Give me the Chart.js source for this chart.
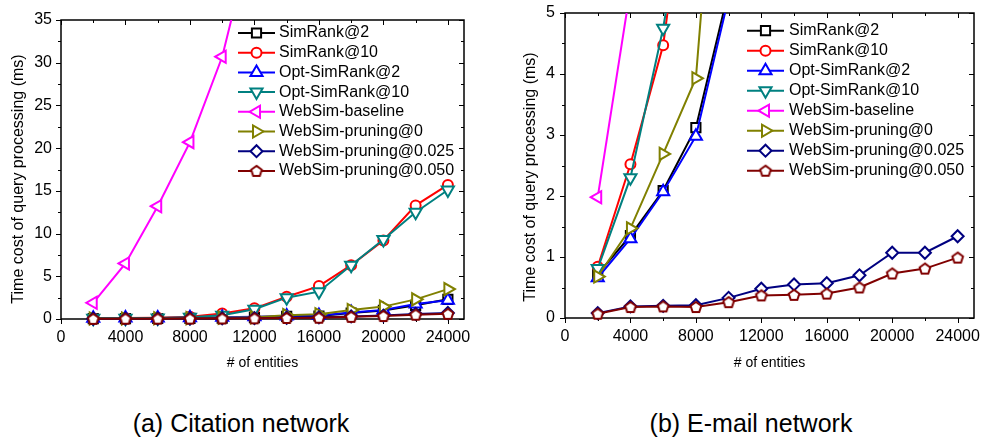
<!DOCTYPE html>
<html><head><meta charset="utf-8">
<script src="https://cdn.jsdelivr.net/npm/chart.js@4/dist/chart.umd.min.js"></script>
<style>
html,body{margin:0;padding:0;background:#fff;width:983px;height:437px;overflow:hidden;}
canvas{position:absolute;top:0;}
#cA{left:0;}
#cB{left:490px;}
.cap{position:absolute;top:409px;height:28px;line-height:28px;font-family:"Liberation Sans",Arial,sans-serif;font-size:25px;color:#000;white-space:nowrap;transform:translateX(-50%);}
</style></head><body>
<canvas id="cA" width="490" height="380"></canvas>
<canvas id="cB" width="493" height="380"></canvas>
<div class="cap" style="left:241px">(a) Citation network</div>
<div class="cap" style="left:751px">(b) E-mail network</div>
<script>
// ---------- data ----------
const entities = [2000,4000,6000,8000,10000,12000,14000,16000,18000,20000,22000,24000];
const seriesNames = ['SimRank@2','SimRank@10','Opt-SimRank@2','Opt-SimRank@10','WebSim-baseline','WebSim-pruning@0','WebSim-pruning@0.025','WebSim-pruning@0.050'];

const xTickValues = [0,4000,8000,12000,16000,20000,24000];
const xTickLabels = ['0','4000','8000','12000','16000','20000','24000'];
const yTickValuesA = [0,5,10,15,20,25,30,35];
const yTickLabelsA = ['0','5','10','15','20','25','30','35'];
const yTickValuesB = [0,1,2,3,4,5];
const yTickLabelsB = ['0','1','2','3','4','5'];

// (a) Citation network
const citSimRank2    = [0.04,0.05,0.06,0.08,0.1,0.15,0.3,0.35,0.7,1.0,1.6,2.3];
const citSimRank10   = [0.1,0.12,0.15,0.25,0.65,1.25,2.6,3.85,6.3,9.2,13.3,15.7];
const citOptSimRank2 = [0.1,0.12,0.12,0.15,0.2,0.25,0.35,0.4,0.75,1.05,1.75,2.2];
const citOptSimRank10= [0.08,0.1,0.12,0.2,0.45,1.15,2.5,3.2,6.3,9.3,12.5,15.1];
const citBaseline    = [1.9,6.5,13.2,20.7,30.7,46.0,null,null,null,null,null,null];
const citPruning0    = [0.05,0.06,0.08,0.1,0.15,0.2,0.45,0.55,1.05,1.45,2.3,3.5];
const citPruning025  = [0.03,0.04,0.05,0.06,0.08,0.1,0.15,0.2,0.3,0.4,0.6,0.7];
const citPruning050  = [0.02,0.03,0.04,0.05,0.06,0.08,0.12,0.15,0.25,0.35,0.5,0.6];

// (b) E-mail network
const emlSimRank2    = [0.72,1.35,2.09,3.12,5.36,null,null,null,null,null,null,null];
const emlSimRank10   = [0.84,2.52,4.47,8.5,null,null,null,null,null,null,null,null];
const emlOptSimRank2 = [0.66,1.3,2.07,2.98,5.25,null,null,null,null,null,null,null];
const emlOptSimRank10= [0.81,2.3,4.75,8.0,null,null,null,null,null,null,null,null];
const emlBaseline    = [1.98,5.4,null,null,null,null,null,null,null,null,null,null];
const emlPruning0    = [0.68,1.47,2.69,3.93,10.6,null,null,null,null,null,null,null];
const emlPruning025  = [0.08,0.19,0.2,0.21,0.33,0.48,0.55,0.57,0.70,1.07,1.07,1.34];
const emlPruning050  = [0.07,0.18,0.19,0.18,0.26,0.37,0.38,0.40,0.50,0.73,0.81,0.99];

const yTitleText = 'Time cost of query processing (ms)';
const xTitleText = '# of entities';

// ---------- styles ----------
const FONT = '"Liberation Sans", Arial, sans-serif';
function makePentagon(color, r, lw){
  const s = Math.ceil(2*r + lw + 2);
  const c = document.createElement('canvas'); c.width = s; c.height = s;
  const g = c.getContext('2d');
  g.beginPath();
  for (let k=0;k<5;k++){
    const a = -Math.PI/2 + k*2*Math.PI/5;
    const px = s/2 + r*Math.cos(a), py = s/2 + 0.5 + r*Math.sin(a);
    if (k) g.lineTo(px,py); else g.moveTo(px,py);
  }
  g.closePath(); g.fillStyle='#fff'; g.fill();
  g.lineWidth=lw; g.strokeStyle=color; g.stroke();
  return c;
}
const styles = [
  {color:'#000000', pointStyle:'rect', rot:0, r:6.5},
  {color:'#ff0000', pointStyle:'circle', rot:0, r:5},
  {color:'#0000ff', pointStyle:'triangle', rot:0, r:7},
  {color:'#008080', pointStyle:'triangle', rot:180, r:7},
  {color:'#ff00ff', pointStyle:'triangle', rot:-90, r:7},
  {color:'#808000', pointStyle:'triangle', rot:90, r:7},
  {color:'#000080', pointStyle:'rectRot', rot:0, r:6},
  {color:'#800000', pointStyle:makePentagon('#800000',5.6,2), rot:0, r:6}
];

function buildDatasets(seriesList){
  return seriesList.map((vals,i)=>({
    label: seriesNames[i],
    data: entities.map((x,j)=>({x:x, y:vals[j]})),
    borderColor: styles[i].color,
    backgroundColor: '#ffffff',
    borderWidth: 2,
    pointStyle: styles[i].pointStyle,
    pointRotation: styles[i].rot,
    pointRadius: styles[i].r,
    pointHoverRadius: styles[i].r,
    pointBorderWidth: 2,
    pointBorderColor: styles[i].color,
    pointBackgroundColor: '#ffffff',
    tension: 0,
    spanGaps: false,
    order: seriesList.length - 1 - i,
    clip: {left: 12, right: 12, top: 0, bottom: 12}
  }));
}

// ---------- plugins ----------
const framePlugin = {
  id:'frame',
  beforeDatasetsDraw(chart, args, opts){
    const ctx = chart.ctx, a = chart.chartArea, xs = chart.scales.x, ys = chart.scales.y;
    ctx.save();
    ctx.strokeStyle = '#000'; ctx.lineWidth = 1.5;
    ctx.strokeRect(a.left, a.top, a.right - a.left, a.bottom - a.top);
    ctx.lineWidth = 1;
    const major = 5, minor = 3;
    const xMaj = opts.xMajor, yMaj = opts.yMajor;
    const xMin = xMaj.slice(0,-1).map((v,i)=>(v + xMaj[i+1])/2);
    const yMin = yMaj.slice(0,-1).map((v,i)=>(v + yMaj[i+1])/2);
    ctx.beginPath();
    const xt = (v,len)=>{ const p = Math.round(xs.getPixelForValue(v)) + 0.5;
      ctx.moveTo(p, a.bottom); ctx.lineTo(p, a.bottom + len);
      ctx.moveTo(p, a.top); ctx.lineTo(p, a.top + len); };
    const yt = (v,len)=>{ const p = Math.round(ys.getPixelForValue(v)) + 0.5;
      ctx.moveTo(a.left, p); ctx.lineTo(a.left - len, p);
      ctx.moveTo(a.right, p); ctx.lineTo(a.right - len, p); };
    xMaj.forEach(v=>xt(v,major)); xMin.forEach(v=>xt(v,minor));
    yMaj.forEach(v=>yt(v,major)); yMin.forEach(v=>yt(v,minor));
    ctx.stroke();
    // y-axis title
    ctx.save();
    ctx.translate(opts.yTitleX, opts.yTitleY);
    ctx.rotate(-Math.PI/2);
    ctx.font = '16px ' + FONT;
    ctx.fillStyle = '#000';
    ctx.textAlign = 'center'; ctx.textBaseline = 'middle';
    ctx.fillText(yTitleText, 0, 0);
    ctx.restore();
    ctx.restore();
  }
};

const legendPlugin = {
  id:'lineLegend',
  afterDraw(chart, args, opts){
    const ctx = chart.ctx, a = chart.chartArea;
    ctx.save();
    ctx.font = '16px ' + FONT;
    ctx.textBaseline = 'middle';
    chart.data.datasets.forEach((ds,i)=>{
      const y = a.top + opts.top + i*opts.gap;
      const x0 = a.left + opts.left, x1 = x0 + opts.lineLen;
      ctx.strokeStyle = ds.borderColor; ctx.lineWidth = ds.borderWidth;
      ctx.beginPath(); ctx.moveTo(x0,y); ctx.lineTo(x1,y); ctx.stroke();
      ctx.fillStyle = ds.pointBackgroundColor; ctx.strokeStyle = ds.pointBorderColor; ctx.lineWidth = ds.pointBorderWidth;
      Chart.helpers.drawPoint(ctx, {pointStyle: ds.pointStyle, rotation: ds.pointRotation || 0, radius: ds.pointRadius, borderWidth: ds.pointBorderWidth}, (x0+x1)/2, y);
      ctx.fillStyle = '#000';
      ctx.fillText(ds.label, x1 + opts.textGap, y);
    });
    ctx.restore();
  }
};

function makeChart(id, seriesList, cfg){
  return new Chart(document.getElementById(id), {
    type: 'line',
    data: { datasets: buildDatasets(seriesList) },
    options: {
      responsive: false,
      animation: false,
      events: [],
      layout: { padding: cfg.padding },
      plugins: {
        legend: {display:false},
        tooltip: {enabled:false},
        frame: {xMajor: xTickValues, yMajor: cfg.yTicks, yTitleX: cfg.yTitleX, yTitleY: cfg.yTitleY},
        lineLegend: cfg.legend
      },
      scales: {
        x: {
          type: 'linear', min: 0, max: 25000,
          border: {display:false},
          grid: {display:false, drawTicks:false},
          afterBuildTicks: s => { s.ticks = xTickValues.map(v=>({value:v})); },
          afterFit: s => { s.height = cfg.xHeight; s.paddingLeft = 0; s.paddingRight = 0; },
          ticks: {autoSkip:false, maxRotation:0, padding:9, color:'#000',
                  font:{family:FONT, size:16},
                  callback: (v,i) => xTickLabels[i]},
          title: {display:true, text:xTitleText, color:'#000',
                  font:{family:FONT, size:14}, padding:{top:0, bottom:8.6}}
        },
        y: {
          type: 'linear', min: 0, max: cfg.yMax,
          border: {display:false},
          grid: {display:false, drawTicks:false},
          afterBuildTicks: s => { s.ticks = cfg.yTicks.map(v=>({value:v})); },
          afterFit: s => { s.width = cfg.yWidth; s.paddingTop = 0; s.paddingBottom = 0; },
          ticks: {autoSkip:false, padding:cfg.yPad, color:'#000',
                  font:{family:FONT, size:16},
                  callback: (v,i) => cfg.yLabels[i]},
          title: {display:false}
        }
      }
    },
    plugins: [framePlugin, legendPlugin]
  });
}

makeChart('cA',
  [citSimRank2, citSimRank10, citOptSimRank2, citOptSimRank10, citBaseline, citPruning0, citPruning025, citPruning050],
  {padding:{left:0, top:20, right:26, bottom:0}, xHeight:61, yWidth:61, yPad:9,
   yTitleX:19, yTitleY:179,
   yMax:35, yTicks:yTickValuesA, yLabels:yTickLabelsA,
   legend:{left:177, top:13, gap:19.7, lineLen:37, textGap:4}});

makeChart('cB',
  [emlSimRank2, emlSimRank10, emlOptSimRank2, emlOptSimRank10, emlBaseline, emlPruning0, emlPruning025, emlPruning050],
  {padding:{left:31, top:13, right:8, bottom:0}, xHeight:62, yWidth:44, yPad:10,
   yTitleX:41, yTitleY:177,
   yMax:5, yTicks:yTickValuesB, yLabels:yTickLabelsB,
   legend:{left:182, top:17.7, gap:20, lineLen:37, textGap:5}});
</script>
</body></html>
